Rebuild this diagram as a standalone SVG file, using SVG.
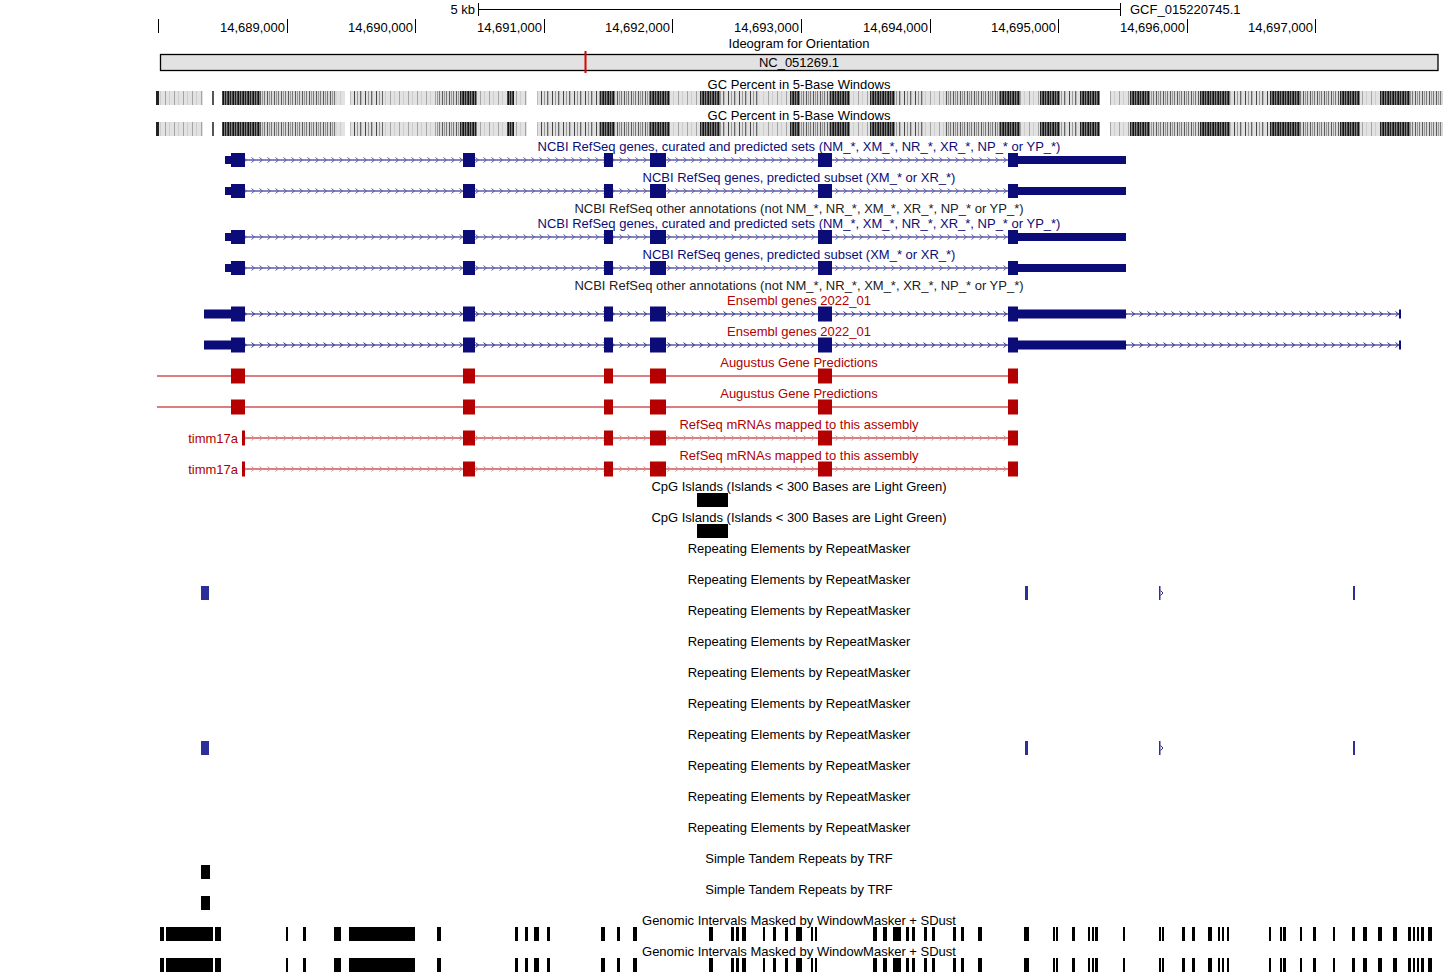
<svg xmlns="http://www.w3.org/2000/svg" xmlns:xlink="http://www.w3.org/1999/xlink" width="1443" height="974" viewBox="0 0 1443 974">
<style>
text{font-family:"Liberation Sans",Arial,sans-serif;font-size:13px;fill:#000}
.c{text-anchor:middle}
.e{text-anchor:end}
.nb{fill:#0c0c78}
.rd{fill:#b00000}
.gr{fill:#222}
.bf{fill:#0c0c78}
.rf{fill:#b40000}
.bl{stroke:#0c0c78;stroke-width:1.2}
.rl{stroke:#b40000;stroke-width:1.2}
.tk{stroke:#000;stroke-width:1}
.rp{fill:#2e2e99}
</style>
<defs>
<pattern id="chB" patternUnits="userSpaceOnUse" x="1" y="-4" width="8" height="8"><path d="M2.5,1.5 L5.5,4 L2.5,6.5" fill="none" stroke="#5a5aa8" stroke-width="1"/></pattern>
<pattern id="chE" patternUnits="userSpaceOnUse" x="1" y="-4" width="8" height="8"><path d="M2.5,1.5 L5.5,4 L2.5,6.5" fill="none" stroke="#2a2a8a" stroke-width="1"/></pattern>
<pattern id="chR" patternUnits="userSpaceOnUse" x="1" y="-4" width="8" height="8"><path d="M2.5,1.5 L5.5,4 L2.5,6.5" fill="none" stroke="#e08a8a" stroke-width="1"/></pattern>
<pattern id="pL" patternUnits="userSpaceOnUse" width="9" height="20"><rect width="9" height="20" fill="#e2e2e2"/><rect x="3" width="1" height="20" fill="#a4a4a4"/><rect x="7" width="1" height="20" fill="#cdcdcd"/></pattern>
<pattern id="pM" patternUnits="userSpaceOnUse" width="7" height="20"><rect width="7" height="20" fill="#d8d8d8"/><rect x="1" width="1" height="20" fill="#5a5a5a"/><rect x="3" width="1" height="20" fill="#9a9a9a"/><rect x="5" width="1" height="20" fill="#787878"/></pattern>
<pattern id="pN" patternUnits="userSpaceOnUse" width="11" height="20"><rect width="11" height="20" fill="#e0e0e0"/><rect x="2" width="1" height="20" fill="#444"/><rect x="5" width="1" height="20" fill="#999"/><rect x="8" width="1" height="20" fill="#666"/><rect x="9" width="1" height="20" fill="#bbb"/></pattern>
<pattern id="pD" patternUnits="userSpaceOnUse" width="5" height="20"><rect width="5" height="20" fill="#808080"/><rect x="0" width="1" height="20" fill="#202020"/><rect x="2" width="1" height="20" fill="#474747"/><rect x="3" width="1" height="20" fill="#111"/></pattern>
</defs>

<g id="ruler">
<line x1="478.5" y1="9.5" x2="1120.5" y2="9.5" class="tk"/>
<line x1="478.5" y1="3" x2="478.5" y2="16" class="tk"/>
<line x1="1120.5" y1="3" x2="1120.5" y2="16" class="tk"/>
<text x="475" y="14" class="e">5 kb</text>
<text x="1130" y="14">GCF_015220745.1</text>
<g class="tk">
<line x1="158.5" y1="19" x2="158.5" y2="33"/>
<line x1="287.5" y1="19" x2="287.5" y2="33"/>
<line x1="415.5" y1="19" x2="415.5" y2="33"/>
<line x1="544.5" y1="19" x2="544.5" y2="33"/>
<line x1="672.5" y1="19" x2="672.5" y2="33"/>
<line x1="801.5" y1="19" x2="801.5" y2="33"/>
<line x1="930.5" y1="19" x2="930.5" y2="33"/>
<line x1="1058.5" y1="19" x2="1058.5" y2="33"/>
<line x1="1187.5" y1="19" x2="1187.5" y2="33"/>
<line x1="1315.5" y1="19" x2="1315.5" y2="33"/>
</g>
<text x="285" y="32" class="e">14,689,000</text>
<text x="413" y="32" class="e">14,690,000</text>
<text x="542" y="32" class="e">14,691,000</text>
<text x="670" y="32" class="e">14,692,000</text>
<text x="799" y="32" class="e">14,693,000</text>
<text x="928" y="32" class="e">14,694,000</text>
<text x="1056" y="32" class="e">14,695,000</text>
<text x="1185" y="32" class="e">14,696,000</text>
<text x="1313" y="32" class="e">14,697,000</text>
</g>

<g id="ideogram">
<text x="799" y="48" class="c">Ideogram for Orientation</text>
<rect x="160.5" y="54.5" width="1277.5" height="16" fill="#e2e2e2" stroke="#000" stroke-width="1.3"/>
<text x="799" y="67" class="c">NC_051269.1</text>
<rect x="584.5" y="51" width="2" height="22" fill="#e00000"/>
</g>

<g id="gc-percent-1">
<text x="799" y="89" class="c">GC Percent in 5-Base Windows</text>
<g id="gcbars">
<rect x="156" y="91" width="3" height="14" fill="#222"/>
<rect x="159" y="91" width="44" height="14" fill="url(#pL)"/>
<rect x="212" y="91" width="2" height="14" fill="#555"/>
<rect x="222" y="91" width="38" height="14" fill="url(#pD)"/>
<rect x="260" y="91" width="77" height="14" fill="url(#pM)"/>
<rect x="337" y="91" width="8" height="14" fill="url(#pL)"/>
<rect x="350" y="91" width="33" height="14" fill="url(#pN)"/>
<rect x="383" y="91" width="54" height="14" fill="url(#pL)"/>
<rect x="437" y="91" width="23" height="14" fill="url(#pM)"/>
<rect x="460" y="91" width="17" height="14" fill="url(#pD)"/>
<rect x="477" y="91" width="30" height="14" fill="url(#pL)"/>
<rect x="507" y="91" width="7" height="14" fill="url(#pD)"/>
<rect x="514" y="91" width="13" height="14" fill="url(#pL)"/>
<rect x="537" y="91" width="63" height="14" fill="url(#pN)"/>
<rect x="600" y="91" width="15" height="14" fill="url(#pD)"/>
<rect x="615" y="91" width="35" height="14" fill="url(#pM)"/>
<rect x="650" y="91" width="20" height="14" fill="url(#pD)"/>
<rect x="670" y="91" width="30" height="14" fill="url(#pL)"/>
<rect x="700" y="91" width="20" height="14" fill="url(#pD)"/>
<rect x="720" y="91" width="40" height="14" fill="url(#pN)"/>
<rect x="760" y="91" width="30" height="14" fill="url(#pL)"/>
<rect x="790" y="91" width="10" height="14" fill="url(#pD)"/>
<rect x="800" y="91" width="30" height="14" fill="url(#pM)"/>
<rect x="830" y="91" width="20" height="14" fill="url(#pD)"/>
<rect x="850" y="91" width="20" height="14" fill="url(#pL)"/>
<rect x="870" y="91" width="25" height="14" fill="url(#pD)"/>
<rect x="895" y="91" width="30" height="14" fill="url(#pN)"/>
<rect x="925" y="91" width="20" height="14" fill="url(#pL)"/>
<rect x="945" y="91" width="55" height="14" fill="url(#pM)"/>
<rect x="1000" y="91" width="20" height="14" fill="url(#pD)"/>
<rect x="1020" y="91" width="20" height="14" fill="url(#pL)"/>
<rect x="1040" y="91" width="20" height="14" fill="url(#pD)"/>
<rect x="1060" y="91" width="20" height="14" fill="url(#pN)"/>
<rect x="1080" y="91" width="20" height="14" fill="url(#pD)"/>
<rect x="1110" y="91" width="20" height="14" fill="url(#pL)"/>
<rect x="1130" y="91" width="20" height="14" fill="url(#pD)"/>
<rect x="1150" y="91" width="50" height="14" fill="url(#pM)"/>
<rect x="1200" y="91" width="30" height="14" fill="url(#pD)"/>
<rect x="1230" y="91" width="40" height="14" fill="url(#pN)"/>
<rect x="1270" y="91" width="30" height="14" fill="url(#pD)"/>
<rect x="1300" y="91" width="40" height="14" fill="url(#pM)"/>
<rect x="1340" y="91" width="20" height="14" fill="url(#pD)"/>
<rect x="1360" y="91" width="20" height="14" fill="url(#pL)"/>
<rect x="1380" y="91" width="30" height="14" fill="url(#pD)"/>
<rect x="1410" y="91" width="33" height="14" fill="url(#pM)"/>
</g>
</g>
<g id="gc-percent-2">
<text x="799" y="120" class="c">GC Percent in 5-Base Windows</text>
<use xlink:href="#gcbars" href="#gcbars" y="31"/>
</g>

<g id="ncbi-curated-1">
<text x="799" y="151" class="c nb">NCBI RefSeq genes, curated and predicted sets (NM_*, XM_*, NR_*, XR_*, NP_* or YP_*)</text>
<g transform="translate(0,160)">
<line x1="245" y1="0" x2="1008" y2="0" class="bl"/>
<rect x="245" y="-4" width="763" height="8" fill="url(#chB)"/>
<rect x="225" y="-4" width="6" height="8" class="bf"/>
<rect x="231" y="-7" width="14" height="14" class="bf"/>
<rect x="463" y="-7" width="12" height="14" class="bf"/>
<rect x="604" y="-7" width="9" height="14" class="bf"/>
<rect x="650" y="-7" width="16" height="14" class="bf"/>
<rect x="818" y="-7" width="14" height="14" class="bf"/>
<rect x="1008" y="-7" width="10" height="14" class="bf"/>
<rect x="1018" y="-4" width="108" height="8" class="bf"/>
</g>
</g>
<g id="ncbi-predicted-1">
<text x="799" y="182" class="c nb">NCBI RefSeq genes, predicted subset (XM_* or XR_*)</text>
<g transform="translate(0,191)">
<line x1="245" y1="0" x2="1008" y2="0" class="bl"/>
<rect x="245" y="-4" width="763" height="8" fill="url(#chB)"/>
<rect x="225" y="-4" width="6" height="8" class="bf"/>
<rect x="231" y="-7" width="14" height="14" class="bf"/>
<rect x="463" y="-7" width="12" height="14" class="bf"/>
<rect x="604" y="-7" width="9" height="14" class="bf"/>
<rect x="650" y="-7" width="16" height="14" class="bf"/>
<rect x="818" y="-7" width="14" height="14" class="bf"/>
<rect x="1008" y="-7" width="10" height="14" class="bf"/>
<rect x="1018" y="-4" width="108" height="8" class="bf"/>
</g>
</g>
<g id="ncbi-other-1">
<text x="799" y="213" class="c gr">NCBI RefSeq other annotations (not NM_*, NR_*, XM_*, XR_*, NP_* or YP_*)</text>
</g>
<g id="ncbi-curated-2">
<text x="799" y="228" class="c nb">NCBI RefSeq genes, curated and predicted sets (NM_*, XM_*, NR_*, XR_*, NP_* or YP_*)</text>
<g transform="translate(0,237)">
<line x1="245" y1="0" x2="1008" y2="0" class="bl"/>
<rect x="245" y="-4" width="763" height="8" fill="url(#chB)"/>
<rect x="225" y="-4" width="6" height="8" class="bf"/>
<rect x="231" y="-7" width="14" height="14" class="bf"/>
<rect x="463" y="-7" width="12" height="14" class="bf"/>
<rect x="604" y="-7" width="9" height="14" class="bf"/>
<rect x="650" y="-7" width="16" height="14" class="bf"/>
<rect x="818" y="-7" width="14" height="14" class="bf"/>
<rect x="1008" y="-7" width="10" height="14" class="bf"/>
<rect x="1018" y="-4" width="108" height="8" class="bf"/>
</g>
</g>
<g id="ncbi-predicted-2">
<text x="799" y="259" class="c nb">NCBI RefSeq genes, predicted subset (XM_* or XR_*)</text>
<g transform="translate(0,268)">
<line x1="245" y1="0" x2="1008" y2="0" class="bl"/>
<rect x="245" y="-4" width="763" height="8" fill="url(#chB)"/>
<rect x="225" y="-4" width="6" height="8" class="bf"/>
<rect x="231" y="-7" width="14" height="14" class="bf"/>
<rect x="463" y="-7" width="12" height="14" class="bf"/>
<rect x="604" y="-7" width="9" height="14" class="bf"/>
<rect x="650" y="-7" width="16" height="14" class="bf"/>
<rect x="818" y="-7" width="14" height="14" class="bf"/>
<rect x="1008" y="-7" width="10" height="14" class="bf"/>
<rect x="1018" y="-4" width="108" height="8" class="bf"/>
</g>
</g>
<g id="ncbi-other-2">
<text x="799" y="290" class="c gr">NCBI RefSeq other annotations (not NM_*, NR_*, XM_*, XR_*, NP_* or YP_*)</text>
</g>

<g id="ensembl-1">
<text x="799" y="305" class="c rd">Ensembl genes 2022_01</text>
<g transform="translate(0,314)">
<line x1="245" y1="0" x2="1400" y2="0" class="bl"/>
<rect x="245" y="-4" width="1154" height="8" fill="url(#chE)"/>
<rect x="204" y="-4.5" width="27" height="9" class="bf"/>
<rect x="231" y="-7.5" width="14" height="15" class="bf"/>
<rect x="463" y="-7.5" width="12" height="15" class="bf"/>
<rect x="604" y="-7.5" width="9" height="15" class="bf"/>
<rect x="650" y="-7.5" width="16" height="15" class="bf"/>
<rect x="818" y="-7.5" width="14" height="15" class="bf"/>
<rect x="1008" y="-7.5" width="10" height="15" class="bf"/>
<rect x="1018" y="-4.5" width="108" height="9" class="bf"/>
<rect x="1399" y="-4.5" width="2" height="9" class="bf"/>
</g>
</g>
<g id="ensembl-2">
<text x="799" y="336" class="c rd">Ensembl genes 2022_01</text>
<g transform="translate(0,345)">
<line x1="245" y1="0" x2="1400" y2="0" class="bl"/>
<rect x="245" y="-4" width="1154" height="8" fill="url(#chE)"/>
<rect x="204" y="-4.5" width="27" height="9" class="bf"/>
<rect x="231" y="-7.5" width="14" height="15" class="bf"/>
<rect x="463" y="-7.5" width="12" height="15" class="bf"/>
<rect x="604" y="-7.5" width="9" height="15" class="bf"/>
<rect x="650" y="-7.5" width="16" height="15" class="bf"/>
<rect x="818" y="-7.5" width="14" height="15" class="bf"/>
<rect x="1008" y="-7.5" width="10" height="15" class="bf"/>
<rect x="1018" y="-4.5" width="108" height="9" class="bf"/>
<rect x="1399" y="-4.5" width="2" height="9" class="bf"/>
</g>
</g>

<g id="augustus-1">
<text x="799" y="367" class="c rd">Augustus Gene Predictions</text>
<g transform="translate(0,376)">
<line x1="157" y1="0" x2="1012" y2="0" class="rl"/>
<rect x="231" y="-7.5" width="14" height="15" class="rf"/>
<rect x="463" y="-7.5" width="12" height="15" class="rf"/>
<rect x="604" y="-7.5" width="9" height="15" class="rf"/>
<rect x="650" y="-7.5" width="16" height="15" class="rf"/>
<rect x="818" y="-7.5" width="14" height="15" class="rf"/>
<rect x="1008" y="-7.5" width="10" height="15" class="rf"/>
</g>
</g>
<g id="augustus-2">
<text x="799" y="398" class="c rd">Augustus Gene Predictions</text>
<g transform="translate(0,407)">
<line x1="157" y1="0" x2="1012" y2="0" class="rl"/>
<rect x="231" y="-7.5" width="14" height="15" class="rf"/>
<rect x="463" y="-7.5" width="12" height="15" class="rf"/>
<rect x="604" y="-7.5" width="9" height="15" class="rf"/>
<rect x="650" y="-7.5" width="16" height="15" class="rf"/>
<rect x="818" y="-7.5" width="14" height="15" class="rf"/>
<rect x="1008" y="-7.5" width="10" height="15" class="rf"/>
</g>
</g>

<g id="refseq-mrna-1">
<text x="799" y="429" class="c rd">RefSeq mRNAs mapped to this assembly</text>
<text x="238" y="443" class="e rd">timm17a</text>
<g transform="translate(0,438)">
<line x1="245" y1="0" x2="1012" y2="0" class="rl"/>
<rect x="245" y="-4" width="763" height="8" fill="url(#chR)"/>
<rect x="242" y="-7.5" width="3" height="15" class="rf"/>
<rect x="463" y="-7.5" width="12" height="15" class="rf"/>
<rect x="604" y="-7.5" width="9" height="15" class="rf"/>
<rect x="650" y="-7.5" width="16" height="15" class="rf"/>
<rect x="818" y="-7.5" width="14" height="15" class="rf"/>
<rect x="1008" y="-7.5" width="10" height="15" class="rf"/>
</g>
</g>
<g id="refseq-mrna-2">
<text x="799" y="460" class="c rd">RefSeq mRNAs mapped to this assembly</text>
<text x="238" y="474" class="e rd">timm17a</text>
<g transform="translate(0,469)">
<line x1="245" y1="0" x2="1012" y2="0" class="rl"/>
<rect x="245" y="-4" width="763" height="8" fill="url(#chR)"/>
<rect x="242" y="-7.5" width="3" height="15" class="rf"/>
<rect x="463" y="-7.5" width="12" height="15" class="rf"/>
<rect x="604" y="-7.5" width="9" height="15" class="rf"/>
<rect x="650" y="-7.5" width="16" height="15" class="rf"/>
<rect x="818" y="-7.5" width="14" height="15" class="rf"/>
<rect x="1008" y="-7.5" width="10" height="15" class="rf"/>
</g>
</g>

<g id="cpg-1">
<text x="799" y="491" class="c">CpG Islands (Islands &lt; 300 Bases are Light Green)</text>
<rect x="697" y="493" width="31" height="14" fill="#000"/>
</g>
<g id="cpg-2">
<text x="799" y="522" class="c">CpG Islands (Islands &lt; 300 Bases are Light Green)</text>
<rect x="697" y="524" width="31" height="14" fill="#000"/>
</g>

<g id="rmsk-1"><text x="799" y="553" class="c">Repeating Elements by RepeatMasker</text></g>
<g id="rmsk-2">
<text x="799" y="584" class="c">Repeating Elements by RepeatMasker</text>
<g id="rmskfeat">
<rect x="201" y="586" width="8" height="14" class="rp"/>
<rect x="1025" y="586" width="3" height="14" class="rp"/>
<rect x="1159" y="586" width="1.5" height="14" class="rp"/>
<path d="M1160.5,590.5 L1163,593 L1160.5,595.5" fill="none" stroke="#2e2e99" stroke-width="1"/>
<rect x="1353" y="586" width="2" height="14" class="rp"/>
</g>
</g>
<g id="rmsk-3"><text x="799" y="615" class="c">Repeating Elements by RepeatMasker</text></g>
<g id="rmsk-4"><text x="799" y="646" class="c">Repeating Elements by RepeatMasker</text></g>
<g id="rmsk-5"><text x="799" y="677" class="c">Repeating Elements by RepeatMasker</text></g>
<g id="rmsk-6"><text x="799" y="708" class="c">Repeating Elements by RepeatMasker</text></g>
<g id="rmsk-7">
<text x="799" y="739" class="c">Repeating Elements by RepeatMasker</text>
<use xlink:href="#rmskfeat" href="#rmskfeat" y="155"/>
</g>
<g id="rmsk-8"><text x="799" y="770" class="c">Repeating Elements by RepeatMasker</text></g>
<g id="rmsk-9"><text x="799" y="801" class="c">Repeating Elements by RepeatMasker</text></g>
<g id="rmsk-10"><text x="799" y="832" class="c">Repeating Elements by RepeatMasker</text></g>

<g id="trf-1">
<text x="799" y="863" class="c">Simple Tandem Repeats by TRF</text>
<rect x="201" y="865" width="9" height="14" fill="#000"/>
</g>
<g id="trf-2">
<text x="799" y="894" class="c">Simple Tandem Repeats by TRF</text>
<rect x="201" y="896" width="9" height="14" fill="#000"/>
</g>

<g id="windowmasker-1">
<text x="799" y="925" class="c">Genomic Intervals Masked by WindowMasker + SDust</text>
<g id="wmbars" fill="#000">
<rect x="160" y="927" width="4" height="14"/><rect x="166" y="927" width="47" height="14"/><rect x="215" y="927" width="6" height="14"/>
<rect x="286" y="927" width="2" height="14"/><rect x="303" y="927" width="3" height="14"/><rect x="334" y="927" width="7" height="14"/>
<rect x="349" y="927" width="66" height="14"/><rect x="437" y="927" width="4" height="14"/><rect x="515" y="927" width="3" height="14"/>
<rect x="525" y="927" width="3" height="14"/><rect x="534" y="927" width="5" height="14"/><rect x="547" y="927" width="3" height="14"/>
<rect x="601" y="927" width="4" height="14"/><rect x="617" y="927" width="3" height="14"/><rect x="633" y="927" width="4" height="14"/>
<rect x="709" y="927" width="4" height="14"/><rect x="731" y="927" width="3" height="14"/><rect x="736" y="927" width="3" height="14"/>
<rect x="742" y="927" width="4" height="14"/><rect x="763" y="927" width="2" height="14"/><rect x="773" y="927" width="3" height="14"/>
<rect x="785" y="927" width="3" height="14"/><rect x="796" y="927" width="6" height="14"/><rect x="811" y="927" width="2" height="14"/>
<rect x="815" y="927" width="2" height="14"/><rect x="873" y="927" width="4" height="14"/><rect x="883" y="927" width="4" height="14"/>
<rect x="893" y="927" width="8" height="14"/><rect x="906" y="927" width="3" height="14"/><rect x="912" y="927" width="3" height="14"/>
<rect x="924" y="927" width="3" height="14"/><rect x="932" y="927" width="3" height="14"/><rect x="953" y="927" width="3" height="14"/>
<rect x="961" y="927" width="3" height="14"/><rect x="978" y="927" width="4" height="14"/><rect x="1024" y="927" width="5" height="14"/>
<rect x="1053" y="927" width="2" height="14"/><rect x="1056" y="927" width="2" height="14"/><rect x="1072" y="927" width="3" height="14"/>
<rect x="1088" y="927" width="2" height="14"/><rect x="1092" y="927" width="2" height="14"/><rect x="1095" y="927" width="3" height="14"/>
<rect x="1123" y="927" width="2" height="14"/><rect x="1159" y="927" width="2" height="14"/><rect x="1162" y="927" width="2" height="14"/>
<rect x="1182" y="927" width="3" height="14"/><rect x="1192" y="927" width="3" height="14"/><rect x="1208" y="927" width="4" height="14"/>
<rect x="1218" y="927" width="2" height="14"/><rect x="1222" y="927" width="2" height="14"/><rect x="1227" y="927" width="2" height="14"/>
<rect x="1269" y="927" width="2" height="14"/><rect x="1280" y="927" width="2" height="14"/><rect x="1283" y="927" width="3" height="14"/>
<rect x="1300" y="927" width="2" height="14"/><rect x="1313" y="927" width="3" height="14"/><rect x="1333" y="927" width="2" height="14"/>
<rect x="1352" y="927" width="3" height="14"/><rect x="1363" y="927" width="4" height="14"/><rect x="1378" y="927" width="4" height="14"/>
<rect x="1393" y="927" width="4" height="14"/><rect x="1408" y="927" width="3" height="14"/><rect x="1413" y="927" width="2" height="14"/>
<rect x="1417" y="927" width="2" height="14"/><rect x="1421" y="927" width="3" height="14"/><rect x="1428" y="927" width="4" height="14"/>
</g>
</g>
<g id="windowmasker-2">
<text x="799" y="956" class="c">Genomic Intervals Masked by WindowMasker + SDust</text>
<use xlink:href="#wmbars" href="#wmbars" y="31"/>
</g>
</svg>
